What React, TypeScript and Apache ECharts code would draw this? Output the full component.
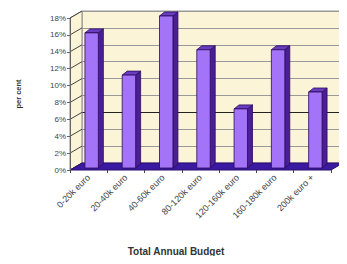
import React, { useEffect, useRef } from "react";
import * as echarts from "echarts";

const categories = [
  "0-20k euro",
  "20-40k euro",
  "40-60k euro",
  "80-120k euro",
  "120-160k euro",
  "160-180k euro",
  "200k euro +",
];
const values = [16, 11, 18, 14, 7, 14, 9];
const yTicks = [0, 2, 4, 6, 8, 10, 12, 14, 16, 18];

const DX = 12; // floor depth x
const DY = 7; // floor depth y
const BDX = 5; // bar depth
const BDY = 4;

export default function App() {
  const ref = useRef<HTMLDivElement>(null);
  useEffect(() => {
    if (!ref.current) return;
    const chart = echarts.init(ref.current, undefined, { renderer: "svg" });
    const gridLineColors = yTicks.map((v) => (v === 6 ? "#222" : "#999"));
    chart.setOption({
      animation: false,
      backgroundColor: "#fff",
      textStyle: { fontFamily: "Liberation Sans, Arial, sans-serif" },
      grid: [
        { left: 70, top: 18, width: 261, height: 152 },
        {
          left: 70 + DX,
          top: 18 - DY,
          width: 261,
          height: 152,
          show: true,
          backgroundColor: "#fcf4d6",
          borderColor: "#999",
          borderWidth: 1,
          z: 0,
        },
      ],
      xAxis: [
        {
          type: "category",
          gridIndex: 0,
          data: categories,
          axisLine: { show: false },
          axisTick: { show: true, length: 3, lineStyle: { color: "#444" } },
          axisLabel: {
            rotate: 45,
            fontSize: 9,
            color: "#444",
            margin: 6,
          },
          z: 5,
        },
        { type: "value", gridIndex: 1, show: false, min: 0, max: 1 },
      ],
      yAxis: [
        {
          type: "value",
          gridIndex: 0,
          min: 0,
          max: 18,
          interval: 2,
          name: "per cent",
          nameLocation: "middle",
          nameGap: 48,
          nameRotate: 90,
          nameTextStyle: { fontSize: 7.5, fontWeight: "bold", color: "#333" },
          axisLine: { show: true, lineStyle: { color: "#666" } },
          axisTick: { show: true, length: 3, lineStyle: { color: "#666" } },
          axisLabel: {
            formatter: "{value}%",
            fontSize: 8,
            color: "#444",
            margin: 4,
          },
          splitLine: { show: false },
          z: 5,
        },
        {
          type: "value",
          gridIndex: 1,
          min: 0,
          max: 18,
          interval: 2,
          axisLine: { show: false },
          axisTick: { show: false },
          axisLabel: { show: false },
          splitLine: { show: true, lineStyle: { color: gridLineColors, width: 1 } },
        },
      ],
      graphic: [
        {
          type: "text",
          x: 176,
          y: 251,
          style: {
            text: "Total Annual Budget",
            fontSize: 10,
            fontWeight: "bold",
            fill: "#333",
            align: "center",
            verticalAlign: "middle",
            fontFamily: "Liberation Sans, Arial, sans-serif",
          },
        },
      ],
      series: [
        {
          type: "custom",
          xAxisIndex: 0,
          yAxisIndex: 0,
          z: 1,
          data: [0],
          renderItem: (params: any, api: any) => {
            const cs = params.coordSys;
            const x0 = cs.x;
            const x1 = cs.x + cs.width;
            const yb = cs.y + cs.height;
            const yt = cs.y;
            const children: any[] = [];
            children.push({
              type: "polygon",
              shape: {
                points: [
                  [x0, yt],
                  [x0 + DX, yt - DY],
                  [x0 + DX, yb - DY],
                  [x0, yb],
                ],
              },
              style: { fill: "#fcf4d6", stroke: "#888", lineWidth: 1 },
            });
            yTicks.forEach((v) => {
              const p = api.coord([0, v]);
              children.push({
                type: "line",
                shape: { x1: x0, y1: p[1], x2: x0 + DX, y2: p[1] - DY },
                style: { stroke: "#444", lineWidth: 1 },
              });
            });
            children.push({
              type: "polygon",
              shape: {
                points: [
                  [x0, yb],
                  [x0 + DX, yb - DY],
                  [x1 + DX, yb - DY],
                  [x1, yb],
                ],
              },
              style: { fill: "#3a1aa0", stroke: "#2a0c70", lineWidth: 1 },
            });
            return { type: "group", children };
          },
        },
        {
          type: "custom",
          xAxisIndex: 0,
          yAxisIndex: 0,
          z: 3,
          data: values.map((v, i) => [i, v]),
          encode: { x: 0, y: 1 },
          renderItem: (params: any, api: any) => {
            const i = api.value(0);
            const v = api.value(1);
            const top = api.coord([i, v]);
            const bot = api.coord([i, 0]);
            const band = api.size([1, 0])[0];
            const w = band * 0.36;
            const sx = 3;
            const sy = -2;
            const xl = top[0] - w / 2 + sx;
            const xr = top[0] + w / 2 + sx;
            const yt = top[1] + sy;
            const yb = bot[1] + sy;
            return {
              type: "group",
              children: [
                {
                  type: "polygon",
                  shape: {
                    points: [
                      [xr, yt],
                      [xr + BDX, yt - BDY],
                      [xr + BDX, yb - BDY],
                      [xr, yb],
                    ],
                  },
                  style: { fill: "#4a1f96", stroke: "#2a0a5c", lineWidth: 0.8 },
                },
                {
                  type: "polygon",
                  shape: {
                    points: [
                      [xl, yt],
                      [xl + BDX, yt - BDY],
                      [xr + BDX, yt - BDY],
                      [xr, yt],
                    ],
                  },
                  style: { fill: "#6a3cc0", stroke: "#2a0a5c", lineWidth: 0.8 },
                },
                {
                  type: "rect",
                  shape: { x: xl, y: yt, width: xr - xl, height: yb - yt },
                  style: { fill: "#a374f7", stroke: "#2a0a5c", lineWidth: 0.8 },
                },
              ],
            };
          },
        },
      ],
    });
    return () => chart.dispose();
  }, []);
  return <div ref={ref} style={{ width: 347, height: 264, margin: -8 }} />;
}
